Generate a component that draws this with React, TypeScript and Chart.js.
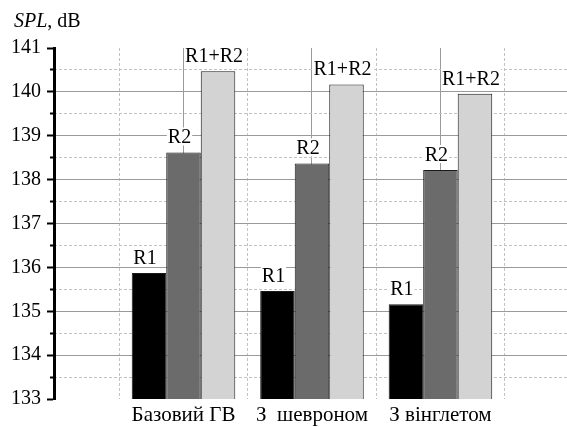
import { useEffect, useRef } from 'react';
import { Chart, registerables } from 'chart.js';

Chart.register(...registerables);

const categories = ['Базовий ГВ', 'З  шевроном', 'З вінглетом'];
const seriesNames = ['R1', 'R2', 'R1+R2'];
const r1Values = [135.87, 135.46, 135.16];
const r2Values = [138.62, 138.37, 138.22];
const sumValues = [140.47, 140.17, 139.96];
const yMajorTicks = [133, 134, 135, 136, 137, 138, 139, 140, 141];
const yMinorTicks = [133.5, 134.5, 135.5, 136.5, 137.5, 138.5, 139.5, 140.5];
const xCenterTicks = [1, 2, 3];
const xBoundaryTicks = [0.5, 1.5, 2.5, 3.5];

const FONT = 'Liberation Serif';
const barColors = ['#000000', '#6b6b6b', '#d3d3d3'];

Chart.defaults.font.family = FONT;

const labelPlugin = {
  id: 'barLabels',
  afterDatasetsDraw(chart: any) {
    const ctx = chart.ctx;
    ctx.save();
    ctx.font = `20px ${FONT}`;
    ctx.textAlign = 'center';
    ctx.textBaseline = 'alphabetic';
    chart.data.datasets.forEach((ds: any, di: number) => {
      const meta = chart.getDatasetMeta(di);
      meta.data.forEach((el: any) => {
        const text = ds.label;
        const w = ctx.measureText(text).width;
        const cx = el.x - 4;
        const by = el.y - 9;
        ctx.fillStyle = '#ffffff';
        ctx.fillRect(cx - w / 2 - 1, by - 16, w + 2, 18);
        ctx.fillStyle = '#000000';
        ctx.fillText(text, cx, by);
      });
    });
    ctx.restore();
  },
};

const titlePlugin = {
  id: 'yTitle',
  afterDraw(chart: any) {
    const ctx = chart.ctx;
    ctx.save();
    ctx.fillStyle = '#000000';
    ctx.textBaseline = 'alphabetic';
    ctx.textAlign = 'left';
    ctx.font = `italic 20px ${FONT}`;
    ctx.fillText('SPL', 14, 27);
    const w = ctx.measureText('SPL').width;
    ctx.font = `20px ${FONT}`;
    ctx.fillText(', dB', 14 + w, 27);
    ctx.restore();
  },
};

export default function App() {
  const canvasRef = useRef<HTMLCanvasElement | null>(null);

  useEffect(() => {
    document.body.style.margin = '0';
    const canvas = canvasRef.current;
    if (!canvas) return;
    const datasets = [r1Values, r2Values, sumValues].map((vals, i) => ({
      label: seriesNames[i],
      data: vals.map((v, j) => ({ x: xCenterTicks[j], y: v })),
      backgroundColor: barColors[i],
      borderColor: '#1a1a1a',
      borderWidth: 1,
      borderSkipped: 'bottom',
      categoryPercentage: 0.806,
      barPercentage: 1,
      xAxisID: 'x',
      yAxisID: 'y',
    }));

    const chart = new Chart(canvas, {
      type: 'bar',
      data: { datasets } as any,
      plugins: [labelPlugin, titlePlugin],
      options: {
        animation: false,
        responsive: false,
        maintainAspectRatio: false,
        font: { family: FONT },
        layout: { padding: { top: 48, left: 0, right: 0, bottom: 0 } },
        plugins: {
          legend: { display: false },
          tooltip: { enabled: false },
          title: { display: false },
        },
        scales: {
          x: {
            type: 'linear',
            position: 'bottom',
            offset: false,
            min: -0.008,
            max: 3.985,
            weight: 1,
            afterBuildTicks: (s: any) => {
              s.ticks = xCenterTicks.map((v) => ({ value: v }));
            },
            afterFit: (s: any) => {
              s.height = 28;
            },
            grid: { offset: false, color: '#9a9a9a', lineWidth: 1, drawTicks: false },
            border: { display: false },
            ticks: {
              autoSkip: false,
              maxRotation: 0,
              padding: 4,
              color: '#000000',
              font: { family: FONT, size: 21 },
              callback: (v: any) => categories[Math.round(Number(v)) - 1] ?? '',
            },
          },
          x2: {
            type: 'linear',
            position: 'bottom',
            offset: false,
            min: -0.008,
            max: 3.985,
            weight: 0,
            afterBuildTicks: (s: any) => {
              s.ticks = xBoundaryTicks.map((v) => ({ value: v }));
            },
            afterFit: (s: any) => {
              s.height = 0;
            },
            grid: { offset: false, color: '#c2c2c2', lineWidth: 1, drawTicks: false },
            border: { display: false, dash: [3, 2] },
            ticks: { display: false },
          },
          y: {
            type: 'linear',
            position: 'left',
            min: 133,
            max: 141,
            weight: 1,
            afterBuildTicks: (s: any) => {
              s.ticks = yMajorTicks.map((v) => ({ value: v }));
            },
            afterFit: (s: any) => {
              s.width = 54;
            },
            grid: {
              color: (c: any) =>
                c.tick && (c.tick.value === 133 || c.tick.value === 141) ? 'rgba(0,0,0,0)' : '#9a9a9a',
              lineWidth: 1,
              tickColor: '#000000',
              tickLength: 7,
              tickWidth: 2,
            },
            border: { display: true, color: '#000000', width: 3 },
            ticks: {
              padding: 6,
              color: '#000000',
              font: { family: FONT, size: 20 },
              callback: (v: any) => String(v),
            },
          },
          y2: {
            type: 'linear',
            position: 'left',
            min: 133,
            max: 141,
            weight: 0,
            afterBuildTicks: (s: any) => {
              s.ticks = yMinorTicks.map((v) => ({ value: v }));
            },
            afterFit: (s: any) => {
              s.width = 0;
            },
            grid: {
              color: '#c2c2c2',
              lineWidth: 1,
              tickColor: '#000000',
              tickLength: 4,
              tickWidth: 2,
            },
            border: { display: false, dash: [3, 2] },
            ticks: { display: false },
          },
        },
      } as any,
    });
    let alive = true;
    const fonts: any = (document as any).fonts;
    if (fonts && fonts.load) {
      Promise.all([
        fonts.load(`20px "${FONT}"`, 'Базовий R1'),
        fonts.load(`italic 20px "${FONT}"`, 'SPL'),
      ])
        .then(() => {
          if (alive) chart.update();
        })
        .catch(() => {});
    }
    return () => {
      alive = false;
      chart.destroy();
    };
  }, []);

  return (
    <div style={{ width: 567, height: 427, background: '#ffffff' }}>
      <canvas ref={canvasRef} width={567} height={427} style={{ display: 'block' }} />
    </div>
  );
}
